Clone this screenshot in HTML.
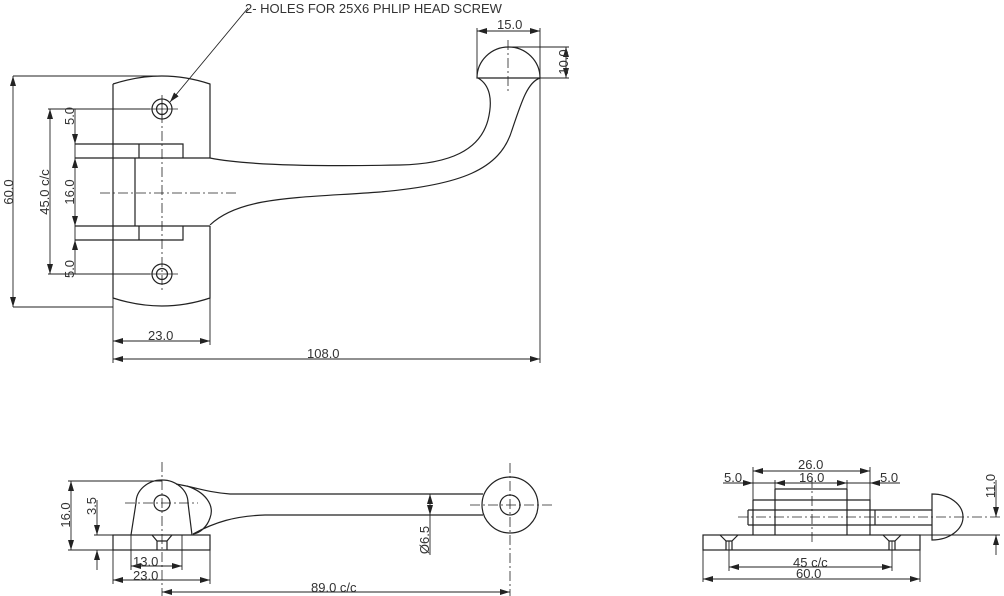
<!DOCTYPE html>
<html><head><style>
html,body{margin:0;padding:0;background:#fff}
svg{display:block}
text{font-family:"Liberation Sans",sans-serif;font-size:13px;fill:#333}
</style></head><body>
<svg width="1004" height="596" viewBox="0 0 1004 596" xmlns="http://www.w3.org/2000/svg">
<defs>
<marker id="a" viewBox="0 0 10 6" refX="10" refY="3" markerWidth="10" markerHeight="6" orient="auto-start-reverse" markerUnits="userSpaceOnUse">
<path d="M0,0 L10,3 L0,6z" fill="#222"/></marker>
</defs>
<g fill="none" stroke="#222" stroke-width="1.2">
<path d="M113,84 Q162,68 210,84 L210,158 M210,226 L210,298 Q162,314 113,298 L113,84"/>
<circle cx="162" cy="109" r="10"/><circle cx="162" cy="109" r="5.5"/>
<circle cx="162" cy="274" r="10"/><circle cx="162" cy="274" r="5.5"/>
<path d="M75,158 H210 M75,226 H210 M135,158 V226"/>
<path d="M75,144 H183 V158 M139,144 V158 M75,240 H183 V226 M139,240 V226"/>
<path d="M210,158 C240,164 300,167 400,165 C450,164 480,150 488,120 C493,100 490,85 478,78 M540,78 C528,82 522,100 512,130 C500,170 460,185 380,192 C300,198 240,196 210,225"/>
<path d="M477,78 A31.5,31 0 0 1 540,78 Z"/>
<g stroke-width="0.8" stroke-dasharray="10,3,2,3">
<path d="M100,193 H236 M162,95 V290 M508,40 V92"/>
</g>
<path stroke-width="0.8" d="M148,109 H178 M148,274 H178 M162,100 V118"/>
<g stroke-width="0.9">
<path d="M13,76 H162 M13,307 H113 M48,109 H150 M48,274 H150 M75,144 V158 M75,226 V240"/>
<path d="M13,76 V307" marker-start="url(#a)" marker-end="url(#a)"/>
<path d="M50,109 V274" marker-start="url(#a)" marker-end="url(#a)"/>
<path d="M75,158 V226" marker-start="url(#a)" marker-end="url(#a)"/>
<path d="M75,109 V144" marker-end="url(#a)"/>
<path d="M75,274 V240" marker-end="url(#a)"/>
<path d="M113,298 V363 M210,298 V345 M540,78 V363"/>
<path d="M113,341 H210" marker-start="url(#a)" marker-end="url(#a)"/>
<path d="M113,359 H540" marker-start="url(#a)" marker-end="url(#a)"/>
<path d="M477,28 V78 M540,28 V78"/>
<path d="M477,31 H540" marker-start="url(#a)" marker-end="url(#a)"/>
<path d="M509,47 H569 M540,78 H569"/>
<path d="M566,47 V78" marker-start="url(#a)" marker-end="url(#a)"/>
<path d="M248,8 L170,102" marker-end="url(#a)"/>
</g>
<rect x="113" y="535" width="97" height="15"/>
<path d="M131,535 L136,503 A26,23 0 0 1 188,503 L192,535"/>
<circle cx="162" cy="503" r="8"/>
<path d="M176,484 C195,487 205,492 230,494 H483 M187,486 C205,492 215,505 210,518 C207,527 200,533 193,534 C215,522 235,516 265,515 H483"/>
<path d="M152,535 L157,541 V550 M172,535 L167,541 V550 M157,541 H167"/>
<circle cx="510" cy="505" r="28"/><circle cx="510" cy="505" r="10"/>
<g stroke-width="0.8" stroke-dasharray="10,3,2,3">
<path d="M125,503 H198 M162,462 V596 M470,505 H552 M510,463 V596"/>
</g>
<g stroke-width="0.9">
<path d="M68,481 H162 M68,550 H113 M94,535 H113"/>
<path d="M71,481 V550" marker-start="url(#a)" marker-end="url(#a)"/>
<path d="M97,500 V535" marker-end="url(#a)"/>
<path d="M97,570 V550" marker-end="url(#a)"/>
<path d="M131,535 V570 M182,535 V570 M113,550 V584 M210,550 V584"/>
<path d="M131,566 H182" marker-start="url(#a)" marker-end="url(#a)"/>
<path d="M113,580 H210" marker-start="url(#a)" marker-end="url(#a)"/>
<path d="M162,592 H510" marker-start="url(#a)" marker-end="url(#a)"/>
<path d="M430,494 V515" marker-start="url(#a)" marker-end="url(#a)"/>
<path d="M430,515 V555"/>
</g>
<rect x="703" y="535" width="217" height="15"/>
<path d="M753,500 H870 V535 M753,500 V535 M775,489 H847 M775,489 V535 M847,489 V535"/>
<path d="M748,510 H932 M748,525 H932 M748,510 V525 M875,510 V525"/>
<path d="M932,494 A31,23 0 0 1 932,540 Z"/>
<path d="M720,535 L726,541 V550 M738,535 L732,541 V550 M726,541 H732"/>
<path d="M883,535 L889,541 V550 M901,535 L895,541 V550 M889,541 H895"/>
<g stroke-width="0.8" stroke-dasharray="10,3,2,3">
<path d="M738,517 H1000 M812,478 V542"/>
</g>
<g stroke-width="0.9">
<path d="M753,467 V500 M870,467 V500 M775,480 V489 M847,480 V489"/>
<path d="M753,471 H870" marker-start="url(#a)" marker-end="url(#a)"/>
<path d="M723,483 H753" marker-end="url(#a)"/>
<path d="M775,483 H847" marker-start="url(#a)" marker-end="url(#a)"/>
<path d="M900,483 H870" marker-end="url(#a)"/>
<path d="M753,483 H775 M847,483 H870"/>
<path d="M729,541 V571 M892,541 V571 M703,550 V582 M920,550 V582"/>
<path d="M729,567 H892" marker-start="url(#a)" marker-end="url(#a)"/>
<path d="M703,579 H920" marker-start="url(#a)" marker-end="url(#a)"/>
<path d="M920,535 H1000"/>
<path d="M996,480 V517" marker-end="url(#a)"/>
<path d="M996,555 V535" marker-end="url(#a)"/>
</g>
</g>
<text x="245" y="13">2- HOLES FOR 25X6 PHLIP HEAD SCREW</text>
<text x="497" y="29">15.0</text>
<text transform="translate(568,62) rotate(-90)" text-anchor="middle">10.0</text>
<text transform="translate(13,192) rotate(-90)" text-anchor="middle">60.0</text>
<text transform="translate(49,192) rotate(-90)" text-anchor="middle">45.0 c/c</text>
<text transform="translate(74,192) rotate(-90)" text-anchor="middle">16.0</text>
<text transform="translate(74,116) rotate(-90)" text-anchor="middle">5.0</text>
<text transform="translate(74,269) rotate(-90)" text-anchor="middle">5.0</text>
<text x="148" y="340">23.0</text>
<text x="307" y="358">108.0</text>
<text transform="translate(70,515) rotate(-90)" text-anchor="middle">16.0</text>
<text transform="translate(96,506) rotate(-90)" text-anchor="middle">3.5</text>
<text x="133" y="566">13.0</text>
<text x="133" y="580">23.0</text>
<text x="311" y="592">89.0 c/c</text>
<text transform="translate(429,540) rotate(-90)" text-anchor="middle">Ø6.5</text>
<text x="798" y="469">26.0</text>
<text x="799" y="482">16.0</text>
<text x="724" y="482">5.0</text>
<text x="880" y="482">5.0</text>
<text x="793" y="567">45 c/c</text>
<text x="796" y="578">60.0</text>
<text transform="translate(995,486) rotate(-90)" text-anchor="middle">11.0</text>
</svg>
</body></html>
